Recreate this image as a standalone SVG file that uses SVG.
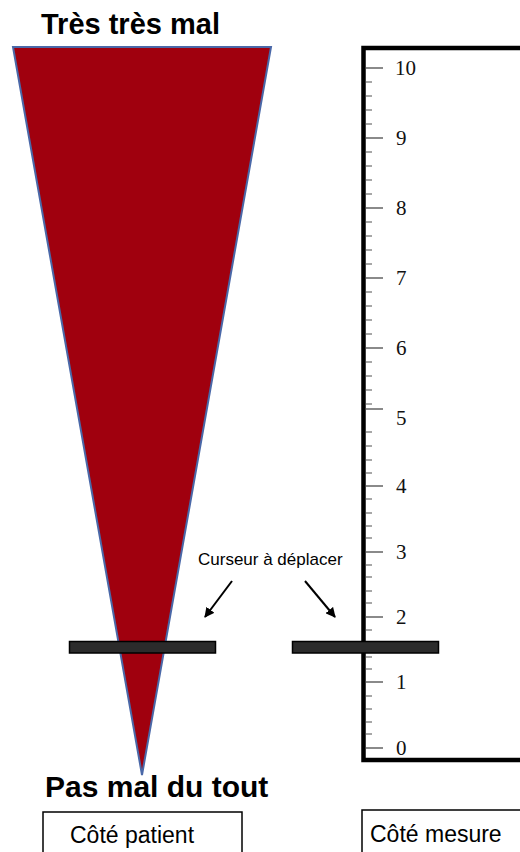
<svg xmlns="http://www.w3.org/2000/svg" width="520" height="852" viewBox="0 0 520 852">
<defs>
<style>
.title{font-family:"Liberation Sans",Arial,sans-serif;font-weight:bold;fill:#000}
.lbl{font-family:"Liberation Sans",Arial,sans-serif;fill:#000}
.num{font-family:"Liberation Serif","Times New Roman",serif;font-size:21px;fill:#111}
.minor{stroke:#8a8a8a;stroke-width:1.5}
.major{stroke:#8a8a8a;stroke-width:1.8}
.bar{fill:#2b2b2b;stroke:#000;stroke-width:1.5}
.arrow{stroke:#000;stroke-width:2;fill:none;marker-end:url(#ah)}
.box{fill:#fff;stroke:#000;stroke-width:1.5}
</style>
<marker id="ah" viewBox="0 0 10 10" refX="9" refY="5" markerWidth="5" markerHeight="5" orient="auto" markerUnits="strokeWidth">
<path d="M0,0 L10,5 L0,10 z" fill="#000"/>
</marker>
</defs>
<rect width="520" height="852" fill="#fff"/>

<g id="title-top"><text class="title" x="41" y="34" font-size="29">Très très mal</text></g>

<g id="triangle"><polygon points="13,47 271,47 142,775" fill="#a0000e" stroke="#4a68a8" stroke-width="2" stroke-linejoin="miter"/></g>

<g id="title-bottom"><text class="title" x="45" y="797" font-size="30">Pas mal du tout</text></g>

<g id="ruler">
<rect x="363.5" y="48" width="200" height="712" fill="#fff" stroke="#000" stroke-width="4.5"/>
<g class="minor">
<path d="M366,82H372M366,96H372M366,110H372M366,124H372
M366,152H372M366,166H372M366,180H372M366,194H372
M366,222H372M366,236H372M366,250H372M366,264H372
M366,292H372M366,306H372M366,320H372M366,334H372
M366,362H372M366,376H372M366,390H372M366,404H372
M366,432H372M366,446H372M366,460H372M366,473H372
M366,499H372M366,513H372M366,526H372M366,538H372
M366,565H372M366,577H372M366,591H372M366,603H372
M366,630H372M366,643H372M366,657H372M366,669H372
M366,696H372M366,709H372M366,722H372M366,734H372"/>
</g>
<g class="major">
<path d="M366,68H383M366,138H383M366,208H383M366,278H383M366,348H383M366,409H383M366,486H383M366,552H383M366,617H383M366,682H383M366,748H383"/>
</g>
<g>
<text class="num" x="395" y="75">10</text>
<text class="num" x="396" y="145">9</text>
<text class="num" x="396" y="215">8</text>
<text class="num" x="396" y="285">7</text>
<text class="num" x="396" y="355">6</text>
<text class="num" x="396" y="425">5</text>
<text class="num" x="396" y="493">4</text>
<text class="num" x="396" y="559">3</text>
<text class="num" x="396" y="624">2</text>
<text class="num" x="396" y="689">1</text>
<text class="num" x="396" y="755">0</text>
</g>
</g>

<g id="cursor-patient"><rect class="bar" x="69.5" y="641.5" width="146" height="11.5"/></g>
<g id="cursor-mesure"><rect class="bar" x="292.5" y="641.5" width="146" height="11.5"/></g>

<g id="cursor-label"><text class="lbl" x="198" y="565" font-size="17">Curseur à déplacer</text></g>

<g id="connectors">
<line class="arrow" x1="232" y1="581" x2="205" y2="617"/>
<line class="arrow" x1="305" y1="581" x2="335" y2="617"/>
</g>

<g id="box-patient">
<rect class="box" x="43" y="812" width="199" height="50"/>
<text class="lbl" x="70" y="843" font-size="23">Côté patient</text>
</g>
<g id="box-mesure">
<rect class="box" x="362" y="810" width="200" height="52"/>
<text class="lbl" x="370" y="842" font-size="23">Côté mesure</text>
</g>
</svg>
